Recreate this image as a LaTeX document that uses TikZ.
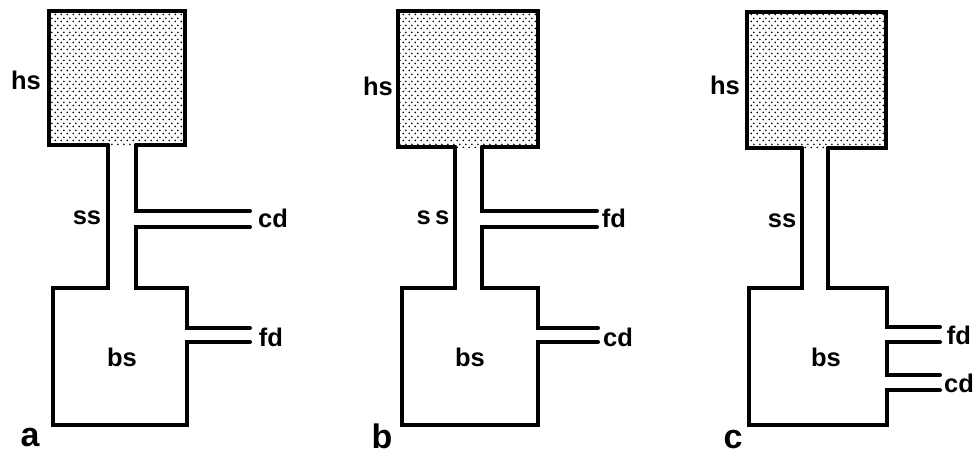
\documentclass[tikz,border=0pt]{standalone}
\usepackage{fontspec}
\setmainfont{Liberation Sans}
\usetikzlibrary{patterns.meta}
\tikzdeclarepattern{
  name=hsdots,
  type=uncolored,
  bottom left={(0pt,0pt)},
  top right={(6pt,7pt)},
  tile size={(6pt,7pt)},
  code={
    \fill (1.5pt,1.75pt) circle (1.05pt);
    \fill (4.5pt,5.25pt) circle (1.05pt);
  }
}
\tikzset{
  wall/.style={line width=4pt, line cap=round, line join=miter, draw=black},
  dotfill/.style={pattern={hsdots}, pattern color=black},
  lbl/.style={font=\fontsize{25.5}{27}\selectfont\bfseries, inner sep=0pt},
  panel/.style={font=\fontsize{34}{36}\selectfont\bfseries, inner sep=0pt}
}
\begin{document}
\begin{tikzpicture}[x=1pt,y=-1pt]
\useasboundingbox (0,0) rectangle (976,456);
\fill[white] (0,0) rectangle (976,456);

% ---------- panel a ----------
\fill[dotfill] (49,11) rectangle (185,145);
\draw[wall] (108,145) -- (49,145) -- (49,11) -- (185,11) -- (185,145) -- (136,145);
\draw[wall] (108,145) -- (108,288) -- (53,288) -- (53,425) -- (187,425) -- (187,342) -- (250,342);
\draw[wall] (136,145) -- (136,211) -- (250,211);
\draw[wall] (250,227) -- (136,227) -- (136,288) -- (187,288) -- (187,328) -- (250,328);
\node[lbl] (ahs) at (26,80) {hs};
\node[lbl] (ass) at (87,218) {ss};
\node[lbl] (acd) at (273,218) {cd};
\node[lbl] (afd) at (271,337) {fd};
\node[lbl] (abs) at (122,357) {bs};
\node[panel] (alab) at (30,438) {a};

% ---------- panel b ----------
\fill[dotfill] (398,11) rectangle (538,147);
\draw[wall] (455,147) -- (398,147) -- (398,11) -- (538,11) -- (538,147) -- (482,147);
\draw[wall] (455,147) -- (455,288) -- (402,288) -- (402,425) -- (538,425) -- (538,342) -- (598,342);
\draw[wall] (482,147) -- (482,211) -- (597,211);
\draw[wall] (597,227) -- (482,227) -- (482,288) -- (538,288) -- (538,328) -- (598,328);
\node[lbl] (bhs) at (378,86) {hs};
\node[lbl] (bss) at (433,218) {s\,s};
\node[lbl] (bfd) at (614,218) {fd};
\node[lbl] (bcd) at (618,337) {cd};
\node[lbl] (bbs) at (470,357) {bs};
\node[panel] (blab) at (382,436) {b};

% ---------- panel c ----------
\fill[dotfill] (747,12) rectangle (886,148);
\draw[wall] (802,148) -- (747,148) -- (747,12) -- (886,12) -- (886,148) -- (828,148);
\draw[wall] (802,148) -- (802,288) -- (749,288) -- (749,425) -- (887,425) -- (887,390) -- (940,390);
\draw[wall] (828,148) -- (828,288) -- (887,288) -- (887,327) -- (940,327);
\draw[wall] (940,342) -- (887,342) -- (887,375) -- (940,375);
\node[lbl] (chs) at (725,85) {hs};
\node[lbl] (css) at (782,221) {ss};
\node[lbl] (cfd) at (959,335) {fd};
\node[lbl] (ccd) at (959,383) {cd};
\node[lbl] (cbs) at (826,357) {bs};
\node[panel] (clab) at (733,440) {c};
\end{tikzpicture}
\end{document}
